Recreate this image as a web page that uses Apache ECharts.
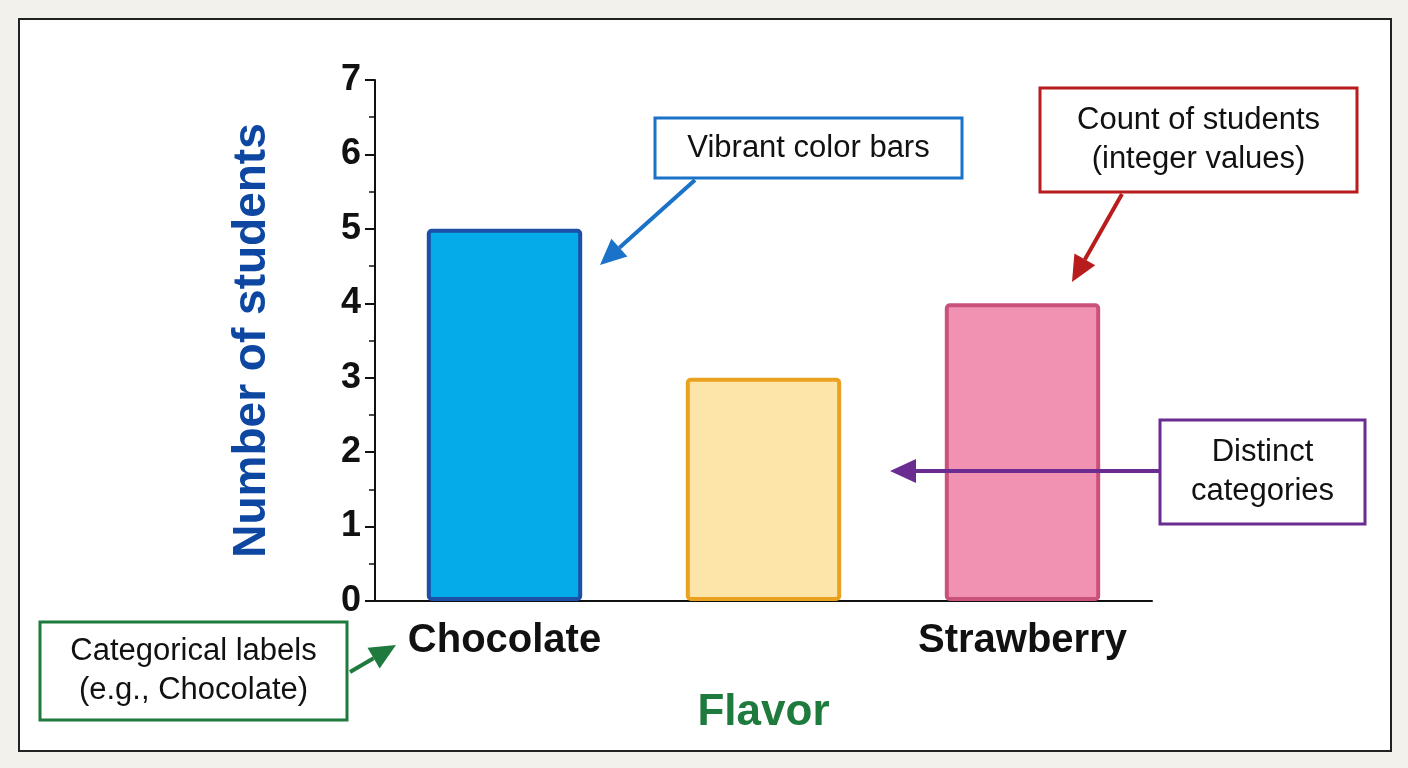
<!DOCTYPE html>
<html>
<head>
<meta charset="UTF-8">
<title>Flavor chart</title>
<script src="https://cdn.jsdelivr.net/npm/echarts@6/dist/echarts.min.js"></script>
<style>
  html, body { margin: 0; padding: 0; background: #f3f1ec; }
  #card { position: absolute; left: 18px; top: 18px; width: 1370px; height: 730px;
          background: #fff; border: 2px solid #222; }
  #chart { position: absolute; left: 0; top: 0; width: 1408px; height: 768px; }
</style>
</head>
<body>
<div id="card"></div>
<div id="chart"></div>
<script>
var categories = ['Chocolate', 'Vanilla', 'Strawberry'];
var counts = [5, 3, 4];
var fills = ['#05abe8', '#fde4a8', '#f192b3'];
var borders = ['#1d4fa6', '#e9a11f', '#c9517c'];

// arrow: line + triangular head, pixel coordinates of annotations only
function arrow(x1, y1, x2, y2, color) {
  var a = Math.atan2(y2 - y1, x2 - x1), L = 26, W = 12;
  var bx = x2 - L * Math.cos(a), by = y2 - L * Math.sin(a);
  var px = -Math.sin(a) * W, py = Math.cos(a) * W;
  return [
    { type: 'line', z: 100, shape: { x1: x1, y1: y1, x2: bx, y2: by }, style: { stroke: color, lineWidth: 4 } },
    { type: 'polygon', z: 100, shape: { points: [[x2, y2], [bx + px, by + py], [bx - px, by - py]] }, style: { fill: color } }
  ];
}
function box(x, y, w, h, color, text) {
  return [
    { type: 'rect', z: 101, shape: { x: x, y: y, width: w, height: h }, style: { fill: '#fff', stroke: color, lineWidth: 3 } },
    { type: 'text', z: 102, x: x + w / 2, y: y + h / 2, style: { text: text, fill: '#111', font: '31px "Liberation Sans", Arial', align: 'center', verticalAlign: 'middle', lineHeight: 39 } }
  ];
}

var graphics = []
  .concat(arrow(695, 180, 600, 265, '#1a72c9'))
  .concat(box(655, 118, 307, 60, '#1a72c9', 'Vibrant color bars'))
  .concat(arrow(1122, 194, 1072, 282, '#b81c1c'))
  .concat(box(1040, 88, 317, 104, '#b81c1c', 'Count of students\n(integer values)'))
  .concat(arrow(1160, 471, 890, 471, '#6b2c92'))
  .concat(box(1160, 420, 205, 104, '#6b2c92', 'Distinct\ncategories'))
  .concat(arrow(350, 672, 396, 645, '#1f7a3d'))
  .concat(box(40, 622, 307, 98, '#1f7a3d', 'Categorical labels\n(e.g., Chocolate)'));

var chart = echarts.init(document.getElementById('chart'));
chart.setOption({
  animation: false,
  grid: { left: 375, top: 80, right: 256, bottom: 167 },
  xAxis: {
    type: 'category', data: categories,
    name: 'Flavor', nameLocation: 'middle', nameGap: 90,
    nameTextStyle: { color: '#1f7a3d', fontSize: 44, fontWeight: 'bold', fontFamily: 'Liberation Sans' },
    axisLine: { lineStyle: { color: '#111', width: 2 } },
    axisTick: { alignWithLabel: true, length: 10, lineStyle: { color: '#111', width: 2 } },
    axisLabel: { color: '#111', fontSize: 40, fontWeight: 'bold', fontFamily: 'Liberation Sans', margin: 20 }
  },
  yAxis: {
    type: 'value', min: 0, max: 7, interval: 1,
    name: 'Number of students', nameLocation: 'middle', nameGap: 100,
    nameTextStyle: { color: '#0d47a1', fontSize: 46, fontWeight: 'bold', fontFamily: 'Liberation Sans' },
    axisLine: { show: true, lineStyle: { color: '#111', width: 2 } },
    axisTick: { show: true, length: 10, lineStyle: { color: '#111', width: 2 } },
    minorTick: { show: true, splitNumber: 2, length: 6, lineStyle: { color: '#111', width: 1.5 } },
    splitLine: { show: false },
    axisLabel: { color: '#111', fontSize: 36, fontWeight: 'bold', fontFamily: 'Liberation Sans', margin: 14 }
  },
  series: [{
    type: 'bar', barWidth: '60%',
    data: counts.map(function (v, i) {
      return { value: v, itemStyle: { color: fills[i], borderColor: borders[i], borderWidth: 4, borderRadius: 3 } };
    })
  }],
  graphic: graphics
});
</script>
</body>
</html>
